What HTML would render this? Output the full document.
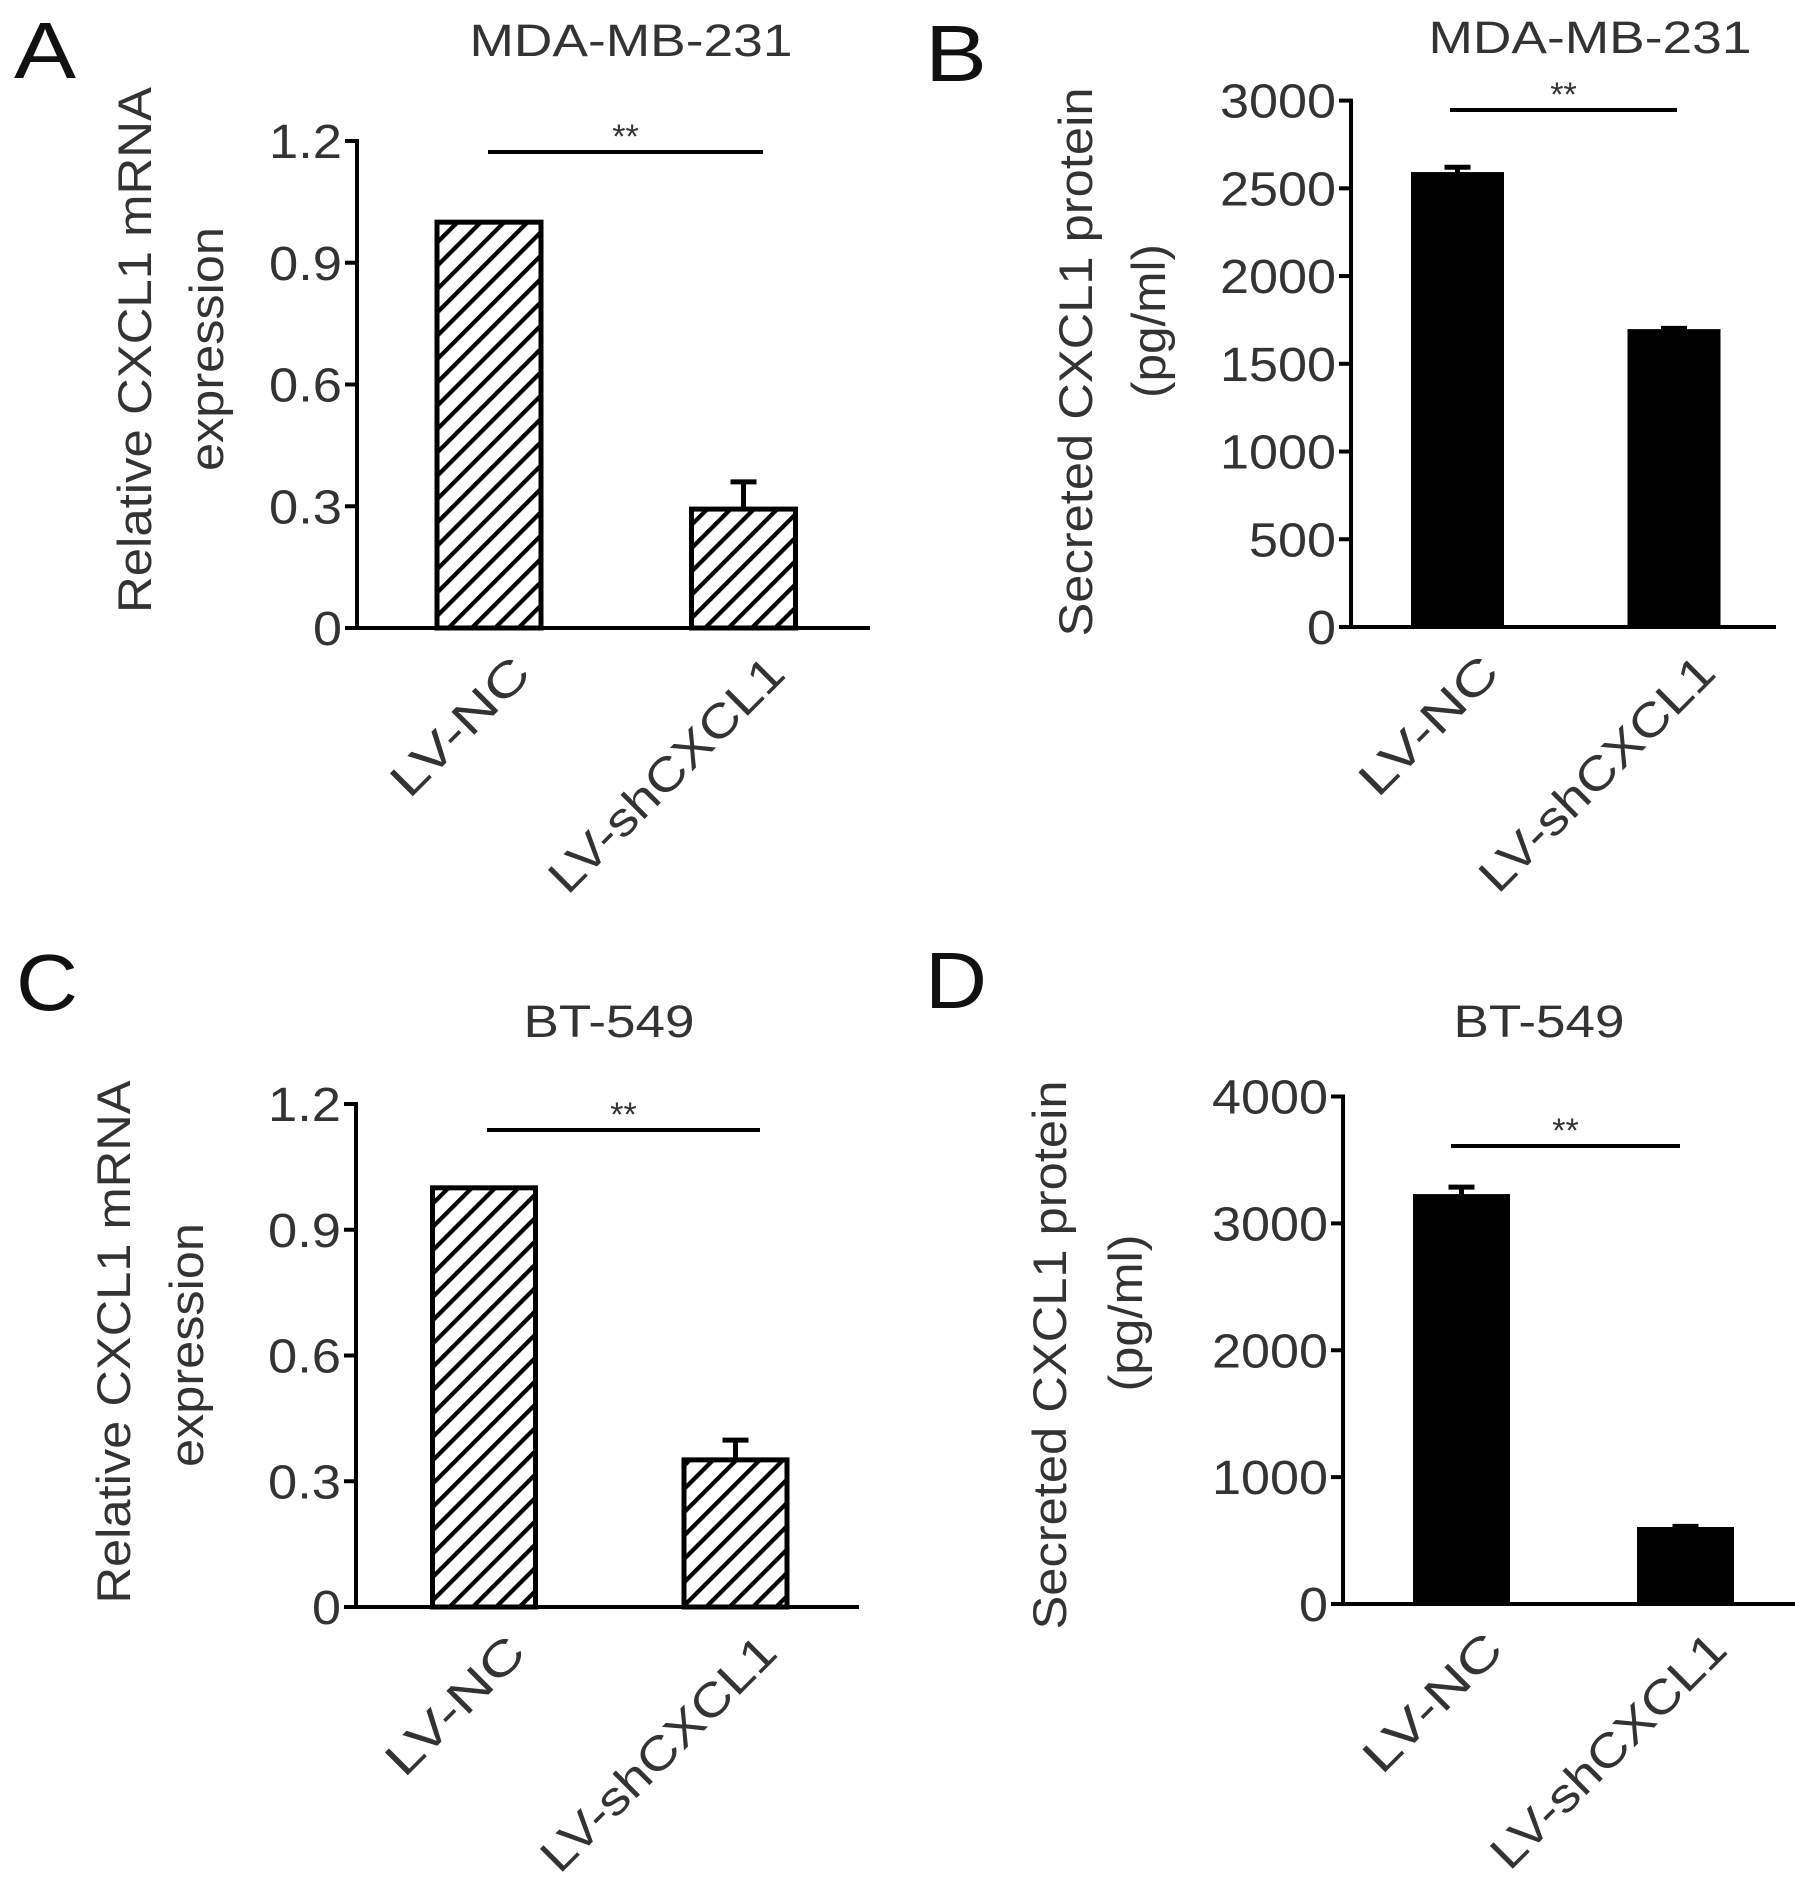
<!DOCTYPE html>
<html><head><meta charset="utf-8"><style>
html,body{margin:0;padding:0;background:#fff;}
svg{display:block;}
text{font-family:"Liberation Sans",Arial,sans-serif;}
</style></head><body>
<svg id="fig" width="1795" height="1899" viewBox="0 0 1795 1899" xmlns="http://www.w3.org/2000/svg">
<defs>
<pattern id="hatch" patternUnits="userSpaceOnUse" width="16.5" height="16.5" patternTransform="rotate(45)">
<rect width="16.5" height="16.5" fill="#fff"/>
<line x1="2" y1="0" x2="2" y2="16.5" stroke="#000" stroke-width="4.5"/>
</pattern>
</defs>
</svg>
<script>
// ---- data ----
const categories = ["LV-NC", "LV-shCXCL1"];
const panelAValues = [1.0, 0.293];
const panelAErrTop = [1.0, 0.36];
const panelATicks = [0, 0.3, 0.6, 0.9, 1.2];
const panelATickLabels = ["0", "0.3", "0.6", "0.9", "1.2"];
const panelBValues = [2587, 1692];
const panelBErrTop = [2620, 1702];
const panelBTicks = [0, 500, 1000, 1500, 2000, 2500, 3000];
const panelBTickLabels = ["0", "500", "1000", "1500", "2000", "2500", "3000"];
const panelCValues = [1.0, 0.351];
const panelCErrTop = [1.0, 0.398];
const panelCTicks = [0, 0.3, 0.6, 0.9, 1.2];
const panelCTickLabels = ["0", "0.3", "0.6", "0.9", "1.2"];
const panelDValues = [3223, 599];
const panelDErrTop = [3286, 612];
const panelDTicks = [0, 1000, 2000, 3000, 4000];
const panelDTickLabels = ["0", "1000", "2000", "3000", "4000"];

const NS = "http://www.w3.org/2000/svg";
const svg = document.getElementById("fig");
function mk(tag, attrs, parent) {
  const e = document.createElementNS(NS, tag);
  for (const k in attrs) e.setAttribute(k, attrs[k]);
  (parent || svg).appendChild(e);
  return e;
}

function drawPanel(p) {
  const g = mk("g", {});
  
  
  const yScale = v => p.y0 - (v / p.max) * (p.y0 - p.yTop);
  const L = mk("text", {x: p.letterX, y: p.letterY, "font-size": 80, fill: "#111", textLength: 62, lengthAdjust: "spacingAndGlyphs"}, g);
  L.textContent = p.id.toUpperCase();
  
  
  const T = mk("text", {x: p.titleX, y: p.titleY, "font-size": 45, fill: "#333", "text-anchor": "middle", textLength: p.titleLen, lengthAdjust: "spacingAndGlyphs"}, g);
  T.textContent = p.title;
  
  
  p.ylab.forEach((yl, i) => {
    const t = mk("text", {transform: "translate(" + yl[0] + "," + yl[1] + ") rotate(-90)", "font-size": 47, fill: "#333", "text-anchor": "middle", textLength: yl[3], lengthAdjust: "spacingAndGlyphs"}, g);
    t.textContent = yl[2];
    
    
  });
  p.values.forEach((v, i) => {
    const cx = p.centers[i];
    const top = yScale(v);
    const r = mk("rect", {x: cx - p.bw / 2, y: top, width: p.bw, height: p.y0 - top,
      fill: p.hatch ? "url(#hatch)" : "#000", stroke: "#000", "stroke-width": p.hatch ? 5 : 2}, g);
    
    
    const et = yScale(p.err[i]);
    if (top - et > 1) {
      const e = mk("path", {d: "M" + cx + "," + top + "V" + et + "M" + (cx - 13) + "," + et + "H" + (cx + 13), stroke: "#000", "stroke-width": 5, fill: "none"}, g);
      
      
    }
    const xl = mk("text", {transform: "translate(" + (cx + 44) + "," + (p.y0 + 48) + ") rotate(-45)", "font-size": 47, fill: "#333", "text-anchor": "end", textLength: p.xlen[i], lengthAdjust: "spacingAndGlyphs"}, g);
    xl.textContent = categories[i];
    
    
  });
  const ax = mk("path", {d: "M" + p.axisX + "," + (p.yTop - 2) + "V" + p.y0 + "M" + (p.axisX - 12) + "," + p.y0 + "H" + p.xEnd, stroke: "#000", "stroke-width": 4, fill: "none"}, g);
  
  
  p.ticks.forEach((tv, i) => {
    const y = yScale(tv);
    const tk = mk("line", {x1: p.axisX - 12, x2: p.axisX, y1: y, y2: y, stroke: "#000", "stroke-width": 4}, g);
    
    
    const lbl = p.tickLabels[i];
    const t = mk("text", {x: p.axisX - 15, y: y + 17, "font-size": 48, fill: "#333", "text-anchor": "end", textLength: lbl.length * 29 - (lbl.indexOf(".") >= 0 ? 14 : 0), lengthAdjust: "spacingAndGlyphs"}, g);
    t.textContent = lbl;
    
    
  });
  const s = mk("line", {x1: p.sig[0], x2: p.sig[1], y1: p.sig[2], y2: p.sig[2], stroke: "#000", "stroke-width": 4}, g);
  
  
  const st = mk("text", {x: (p.sig[0] + p.sig[1]) / 2, y: p.sig[2] - 4, "font-size": 34, fill: "#333", "text-anchor": "middle"}, g);
  st.textContent = "**";
  
  
}

drawPanel({id: "a", letterX: 14, letterY: 78, title: "MDA-MB-231", titleX: 631, titleY: 56, titleLen: 323,
  ylab: [[151, 350, "Relative CXCL1 mRNA", 526], [223, 349, "expression", 244]],
  values: panelAValues, err: panelAErrTop, ticks: panelATicks, tickLabels: panelATickLabels,
  axisX: 357, y0: 628, yTop: 141, max: 1.2, xEnd: 870, centers: [489, 743.5], bw: 104, hatch: true,
  xlen: [175, 311], sig: [488, 763, 152]});
drawPanel({id: "b", letterX: 925, letterY: 81, title: "MDA-MB-231", titleX: 1590, titleY: 53, titleLen: 323,
  ylab: [[1092, 362, "Secreted CXCL1 protein", 549], [1165, 321, "(pg/ml)", 154]],
  values: panelBValues, err: panelBErrTop, ticks: panelBTicks, tickLabels: panelBTickLabels,
  axisX: 1351, y0: 627, yTop: 100.6, max: 3000, xEnd: 1776, centers: [1457.5, 1674], bw: 91, hatch: false,
  xlen: [175, 311], sig: [1450, 1677, 110]});
drawPanel({id: "c", letterX: 16, letterY: 1010, title: "BT-549", titleX: 609, titleY: 1037, titleLen: 171,
  ylab: [[130, 1342, "Relative CXCL1 mRNA", 523], [203, 1345, "expression", 244]],
  values: panelCValues, err: panelCErrTop, ticks: panelCTicks, tickLabels: panelCTickLabels,
  axisX: 356, y0: 1607, yTop: 1104, max: 1.2, xEnd: 859, centers: [484, 735.5], bw: 103, hatch: true,
  xlen: [175, 311], sig: [487, 760, 1130]});
drawPanel({id: "d", letterX: 925, letterY: 1008, title: "BT-549", titleX: 1539, titleY: 1037, titleLen: 171,
  ylab: [[1066, 1355, "Secreted CXCL1 protein", 549], [1142, 1313, "(pg/ml)", 157]],
  values: panelDValues, err: panelDErrTop, ticks: panelDTicks, tickLabels: panelDTickLabels,
  axisX: 1343, y0: 1604, yTop: 1096.5, max: 4000, xEnd: 1795, centers: [1461.5, 1685.5], bw: 95, hatch: false,
  xlen: [175, 311], sig: [1451, 1680, 1146]});
</script>
</body></html>
